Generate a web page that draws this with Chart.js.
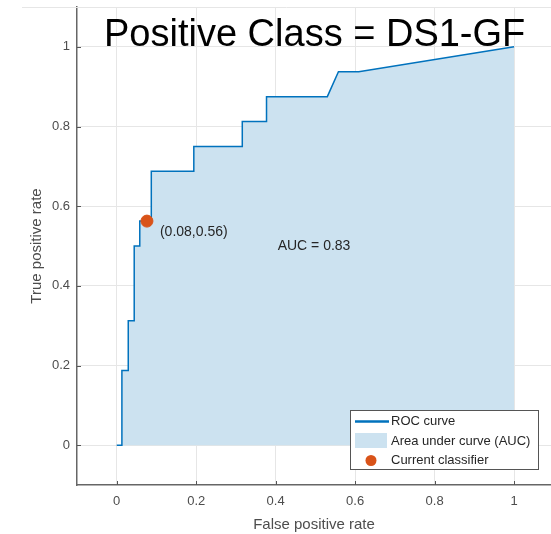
<!DOCTYPE html>
<html>
<head>
<meta charset="utf-8">
<script src="https://cdn.jsdelivr.net/npm/chart.js@4/dist/chart.umd.min.js"></script>
<style>
  html, body { margin: 0; padding: 0; background: #fff; }
  canvas { display: block; }
</style>
</head>
<body>
<canvas id="roc" width="551" height="534"></canvas>
<script>
// ROC curve (false positive rate, true positive rate)
const rocFpr = [0, 0.013, 0.013, 0.029, 0.029, 0.044, 0.044, 0.058, 0.058, 0.087, 0.087, 0.194, 0.194, 0.316, 0.316, 0.377, 0.377, 0.530, 0.558, 0.609, 1];
const rocTpr = [0, 0, 0.1875, 0.1875, 0.3125, 0.3125, 0.5, 0.5, 0.5625, 0.5625, 0.6875, 0.6875, 0.75, 0.75, 0.8125, 0.8125, 0.875, 0.875, 0.9375, 0.9375, 1];
const classifierPoint = [0.076, 0.5625];
const classifierText = "(0.08,0.56)";
const aucText = "AUC = 0.83";
const aucTextAt = [0.405, 0.50];
const titleText = "Positive Class = DS1-GF";
const xTicks = [0, 0.2, 0.4, 0.6, 0.8, 1];
const xTickLabels = ["0", "0.2", "0.4", "0.6", "0.8", "1"];
const yTicks = [0, 0.2, 0.4, 0.6, 0.8, 1];
const yTickLabels = ["0", "0.2", "0.4", "0.6", "0.8", "1"];
const legendLabels = ["ROC curve", "Area under curve (AUC)", "Current classifier"];

const FONT = "'Liberation Sans', Arial, Helvetica, sans-serif";
const lineColor = "#0072bd";
const areaColor = "#cce2f0";
const dotColor = "#d95319";
const axisText = "#4d4d4d";

const extras = {
  id: 'extras',
  afterDatasetsDraw(chart) {
    const c = chart.ctx;
    const xs = chart.scales.x, ys = chart.scales.y;
    c.save();
    c.fillStyle = "#262626";
    c.font = "14px " + FONT;
    c.textBaseline = "middle";
    c.textAlign = "left";
    const px = xs.getPixelForValue(classifierPoint[0]);
    const py = ys.getPixelForValue(classifierPoint[1]);
    c.fillText(classifierText, px + 13, py + 11.5);
    c.fillText(aucText, xs.getPixelForValue(aucTextAt[0]), ys.getPixelForValue(aucTextAt[1]));
    c.restore();
  },
  afterDraw(chart) {
    const c = chart.ctx;
    const area = chart.chartArea;
    const xs = chart.scales.x, ys = chart.scales.y;
    c.save();
    // top edge of the axes box
    c.strokeStyle = "#e6e6e6";
    c.lineWidth = 1;
    c.beginPath();
    c.moveTo(22, area.top + 0.5);
    c.lineTo(area.right, area.top + 0.5);
    c.stroke();
    // inner tick marks
    c.strokeStyle = "#555";
    c.lineWidth = 1;
    yTicks.forEach(v => {
      const y = Math.round(ys.getPixelForValue(v)) + 0.5;
      c.beginPath(); c.moveTo(area.left, y); c.lineTo(area.left + 4, y); c.stroke();
    });
    xTicks.forEach(v => {
      const x = Math.round(xs.getPixelForValue(v)) + 0.5;
      c.beginPath(); c.moveTo(x, area.bottom); c.lineTo(x, area.bottom - 4); c.stroke();
    });

    // big title pasted over the plot
    c.fillStyle = "#000";
    c.font = "38px " + FONT;
    c.textAlign = "left";
    c.textBaseline = "alphabetic";
    c.fillText(titleText, 104, 46);

    // legend box
    c.fillStyle = "#fff";
    c.fillRect(350, 410, 189, 60);
    c.strokeStyle = "#555";
    c.lineWidth = 1;
    c.strokeRect(350.5, 410.5, 188, 59);
    c.strokeStyle = lineColor;
    c.lineWidth = 2.5;
    c.beginPath(); c.moveTo(355, 421.5); c.lineTo(389, 421.5); c.stroke();
    c.fillStyle = areaColor;
    c.fillRect(355, 433, 32, 15);
    c.fillStyle = dotColor;
    c.beginPath(); c.arc(371, 460.5, 5.5, 0, Math.PI * 2); c.fill();
    c.fillStyle = "#262626";
    c.font = "13px " + FONT;
    c.textBaseline = "middle";
    c.fillText(legendLabels[0], 391, 421.5);
    c.fillText(legendLabels[1], 391, 441);
    c.fillText(legendLabels[2], 391, 460.5);
    c.restore();
  }
};

const ctx = document.getElementById('roc').getContext('2d');
new Chart(ctx, {
  type: 'scatter',
  data: {
    datasets: [
      {
        label: legendLabels[2],
        data: [{x: classifierPoint[0], y: classifierPoint[1]}],
        pointRadius: 6,
        pointBackgroundColor: dotColor,
        pointBorderColor: dotColor,
        showLine: false,
        order: 0
      },
      {
        label: legendLabels[0],
        data: rocFpr.map((x, i) => ({x: x, y: rocTpr[i]})),
        showLine: true,
        borderColor: lineColor,
        borderWidth: 1.5,
        backgroundColor: areaColor,
        fill: 'origin',
        pointRadius: 0,
        tension: 0,
        order: 1
      }
    ]
  },
  options: {
    responsive: false,
    devicePixelRatio: 1,
    animation: false,
    layout: { autoPadding: false, padding: { top: 7, left: 0, right: 0, bottom: 0 } },
    plugins: {
      legend: { display: false },
      title: { display: false },
      tooltip: { enabled: false }
    },
    scales: {
      x: {
        type: 'linear',
        min: -0.1,
        max: 1.093,
        afterBuildTicks: s => { s.ticks = xTicks.map(v => ({value: v})); },
        afterFit: s => { s.height = 49; s.paddingLeft = 0; s.paddingRight = 0; },
        grid: { color: "#e6e6e6", drawTicks: false },
        border: { color: "#666", width: 1.5 },
        ticks: {
          padding: 9,
          color: axisText,
          font: { family: FONT, size: 13 },
          maxRotation: 0,
          callback: (v, i) => xTickLabels[i]
        },
        title: {
          display: true,
          text: "False positive rate",
          color: axisText,
          font: { family: FONT, size: 15 },
          padding: { top: 0, bottom: 0 }
        }
      },
      y: {
        type: 'linear',
        min: -0.1,
        max: 1.1,
        afterBuildTicks: s => { s.ticks = yTicks.map(v => ({value: v})); },
        afterFit: s => { s.width = 77; s.paddingTop = 0; s.paddingBottom = 0; },
        grid: { color: "#e6e6e6", drawTicks: false },
        border: { color: "#666", width: 1.5 },
        ticks: {
          padding: 7,
          color: axisText,
          font: { family: FONT, size: 13 },
          callback: (v, i) => yTickLabels[i]
        },
        title: {
          display: true,
          text: "True positive rate",
          color: axisText,
          font: { family: FONT, size: 15 },
          padding: { top: 28, bottom: 0 }
        }
      }
    }
  },
  plugins: [extras]
});
</script>
</body>
</html>
